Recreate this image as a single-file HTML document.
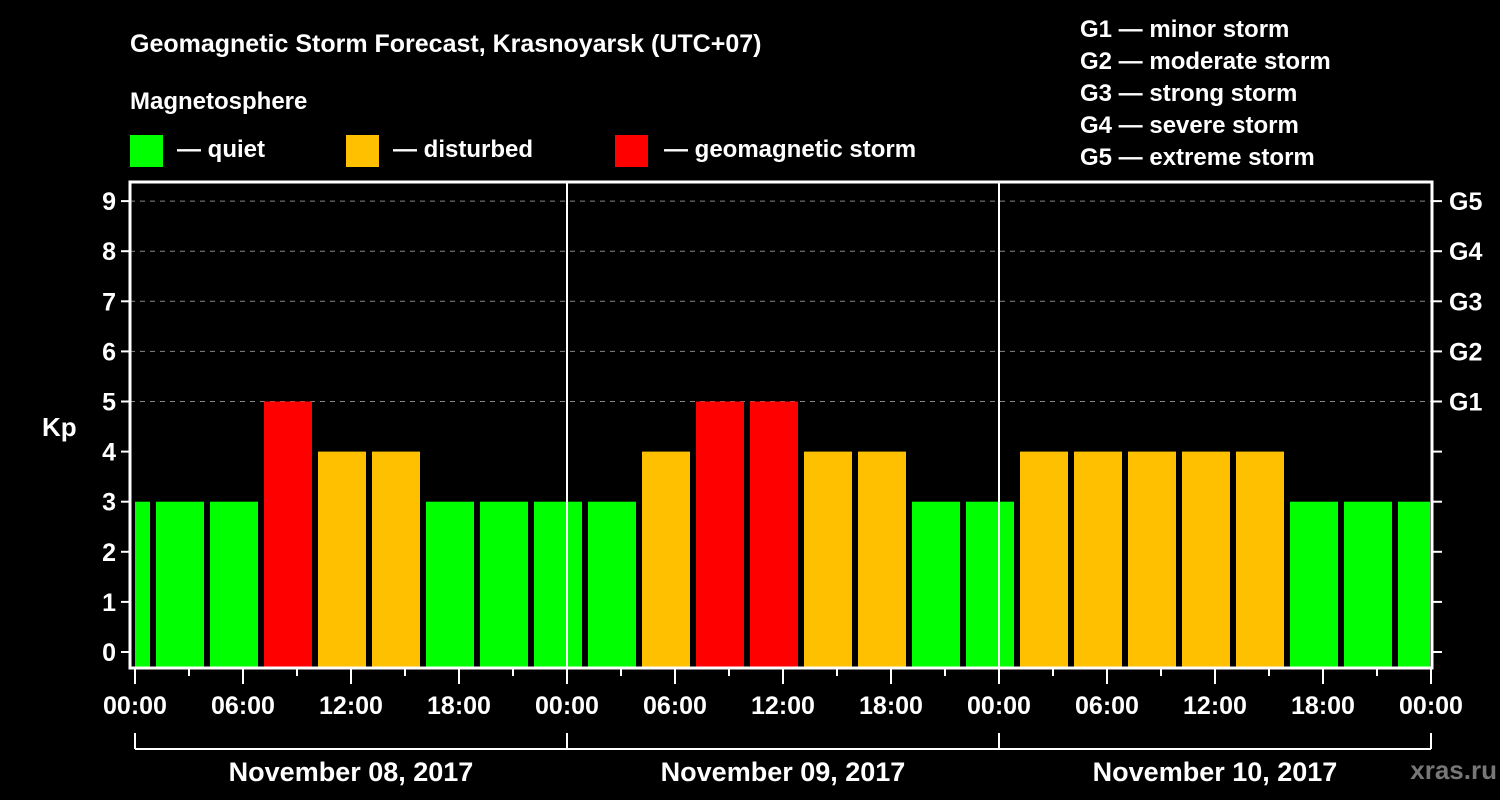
<!DOCTYPE html>
<html><head><meta charset="utf-8"><style>
html,body{margin:0;padding:0;background:#000;}
svg{display:block;font-family:"Liberation Sans",sans-serif;font-weight:bold;}
</style></head><body>
<svg id="c" width="1500" height="800" viewBox="0 0 1500 800">
<text x="130" y="52" fill="#fff" font-size="25">Geomagnetic Storm Forecast, Krasnoyarsk (UTC+07)</text>
<text x="130" y="109" fill="#fff" font-size="24">Magnetosphere</text>
<g>
<rect x="130" y="135" width="33" height="32" fill="#00ff00"/>
<text x="177" y="157" fill="#fff" font-size="24">— quiet</text>
<rect x="346" y="135" width="33" height="32" fill="#ffc000"/>
<text x="393" y="157" fill="#fff" font-size="24">— disturbed</text>
<rect x="615" y="135" width="33" height="32" fill="#ff0000"/>
<text x="664" y="157" fill="#fff" font-size="24">— geomagnetic storm</text>
</g>
<g fill="#fff" font-size="24">
<text x="1080" y="37">G1 — minor storm</text>
<text x="1080" y="69">G2 — moderate storm</text>
<text x="1080" y="101">G3 — strong storm</text>
<text x="1080" y="133">G4 — severe storm</text>
<text x="1080" y="165">G5 — extreme storm</text>
</g>
<text x="42" y="436" fill="#fff" font-size="26">Kp</text>
<text x="1497" y="779" fill="#777" font-size="26" text-anchor="end">xras.ru</text>
<g id="plot"></g>
</svg>
<script>
const kpValues=[3,3,3,5,4,4,3,3,3,3,4,5,5,4,4,3,3,4,4,4,4,4,3,3,3];
const yTicks=[0,1,2,3,4,5,6,7,8,9];
const gLabels=["G1","G2","G3","G4","G5"];
const xTickLabels=["00:00","06:00","12:00","18:00","00:00","06:00","12:00","18:00","00:00","06:00","12:00","18:00","00:00"];
const dayLabels=["November 08, 2017","November 09, 2017","November 10, 2017"];
const firstBarHour=-2;
const NS="http://www.w3.org/2000/svg";
const X0=135,PXH=18,Y0=652,PXU=50.1,L=130,R=1432,T=182,B=668;
const xs=h=>X0+h*PXH, ys=v=>Y0-v*PXU;
const g=document.getElementById('plot');
function mk(t,a,p){const e=document.createElementNS(NS,t);for(const k in a)e.setAttribute(k,a[k]);(p||g).appendChild(e);return e;}
// grid
yTicks.forEach(v=>{if(v>=5){const l=mk('line',{x1:L,x2:R,y1:ys(v),y2:ys(v),stroke:'#888','stroke-width':1,'stroke-dasharray':'5,5'});

}});
// bars
kpValues.forEach((v,i)=>{const h0=firstBarHour+i*3;let x1=xs(h0)+3,x2=xs(h0+3)-3;x1=Math.max(x1,L+5);x2=Math.min(x2,R-2);
const col=v>=5?'#ff0000':(v>=4?'#ffc000':'#00ff00');
const r=mk('rect',{x:x1,y:ys(v),width:x2-x1,height:B-ys(v),fill:col});

});
// day separators
[1,2].forEach(d=>{const l=mk('line',{x1:xs(24*d),x2:xs(24*d),y1:T,y2:B,stroke:'#fff','stroke-width':2});

});
// frame
const f=mk('rect',{x:L,y:T,width:R-L,height:B-T,fill:'none',stroke:'#fff','stroke-width':3});


// y ticks
yTicks.forEach(v=>{mk('line',{x1:L-9,x2:L,y1:ys(v),y2:ys(v),stroke:'#fff','stroke-width':2});
mk('line',{x1:R,x2:R+10,y1:ys(v),y2:ys(v),stroke:'#fff','stroke-width':2});
const t=mk('text',{x:116,y:ys(v)+9,fill:'#fff','font-size':25,'text-anchor':'end'});t.textContent=v;

});
gLabels.forEach((s,i)=>{const t=mk('text',{x:1449,y:ys(5+i)+9,fill:'#fff','font-size':25});t.textContent=s;

});
// x ticks
for(let h=0;h<=72;h+=3){const major=h%6===0;mk('line',{x1:xs(h),x2:xs(h),y1:B,y2:B+(major?16:8),stroke:'#fff','stroke-width':2});}
xTickLabels.forEach((s,i)=>{const t=mk('text',{x:xs(i*6),y:714,fill:'#fff','font-size':25,'text-anchor':'middle'});t.textContent=s;

});
// day brackets
mk('line',{x1:xs(0),x2:xs(72),y1:749,y2:749,stroke:'#fff','stroke-width':2});
[0,1,2,3].forEach(d=>mk('line',{x1:xs(24*d),x2:xs(24*d),y1:733,y2:749,stroke:'#fff','stroke-width':2}));
dayLabels.forEach((s,i)=>{const t=mk('text',{x:xs(24*i+12),y:781,fill:'#fff','font-size':27,'text-anchor':'middle'});t.textContent=s;

});
</script>
</body></html>
